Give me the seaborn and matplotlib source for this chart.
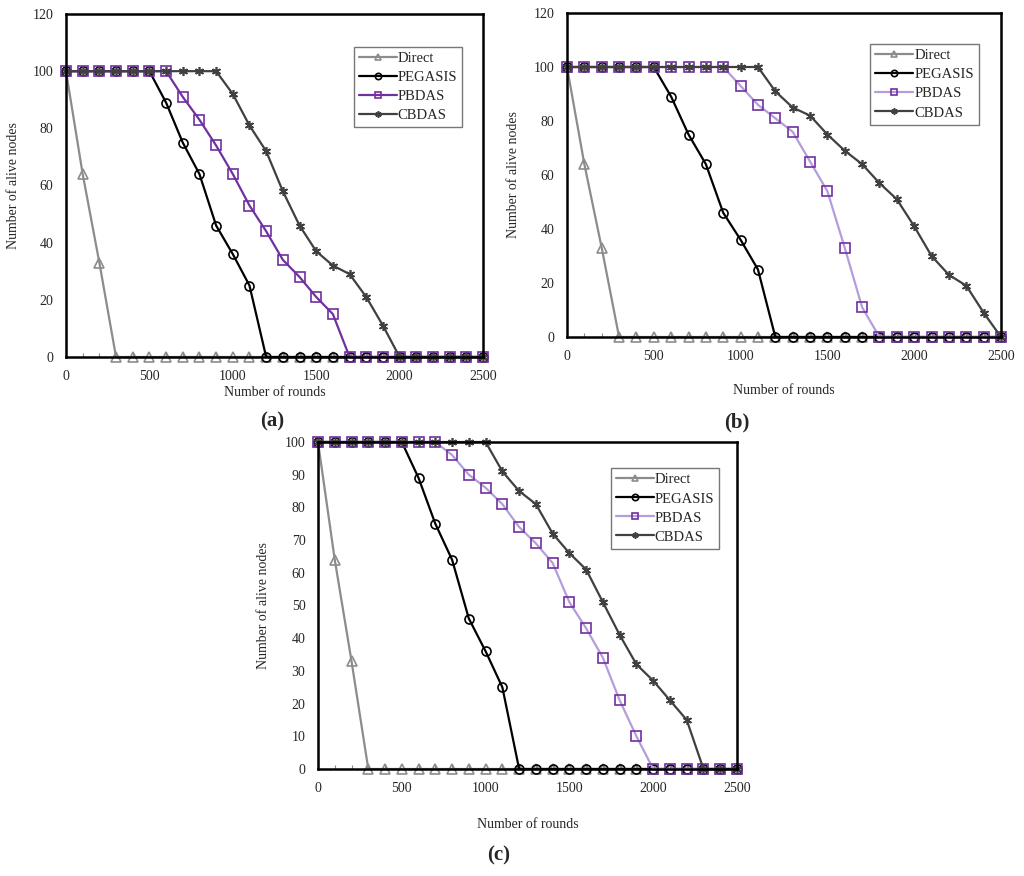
import numpy as np
import pandas as pd
import matplotlib
matplotlib.use("Agg")
import matplotlib.pyplot as plt
import seaborn as sns

# rounds 0..2500 step 100
rounds = list(range(0, 2600, 100))

direct = [100, 64, 33] + [0] * 23
pegasis = [100] * 6 + [89, 75, 64, 46, 36, 25] + [0] * 14

# panel (a)
pbdas_a = [100] * 7 + [91, 83, 74, 64, 53, 44, 34, 28, 21, 15] + [0] * 9
cbdas_a = [100] * 10 + [92, 81, 72, 58, 46, 37, 32, 29, 21, 11] + [0] * 6

# panel (b)
pbdas_b = [100] * 10 + [93, 86, 81, 76, 65, 54, 33, 11] + [0] * 8
cbdas_b = [100] * 12 + [91, 85, 82, 75, 69, 64, 57, 51, 41, 30, 23, 19, 9, 0]

# panel (c)
pbdas_c = [100] * 8 + [96, 90, 86, 81, 74, 69, 63, 51, 43, 34, 21, 10] + [0] * 6
cbdas_c = [100] * 11 + [91, 85, 81, 72, 66, 61, 51, 41, 32, 27, 21, 15] + [0] * 3

series_names = ["Direct", "PEGASIS", "PBDAS", "CBDAS"]

W, H = 1024, 876
sns.set_theme(style="white")
plt.rcParams['font.family'] = ['Liberation Serif', 'DejaVu Serif']

fig = plt.figure(figsize=(W / 100, H / 100), dpi=100)

GRAY = "#8c8c8c"
BLACK = "#000000"
PURPLE = "#7030a0"
LIGHT_PURPLE = "#b39ddb"
DARK = "#404040"
ASTER = (6, 2, 0)


def make_panel(rect, pb, cb, pb_line, ylim, ystep, leg_anchor,
               xlab_off, ylab_x, letter, letter_xy):
    ax = fig.add_axes(rect)
    styles = [
        ("Direct", direct, GRAY, GRAY, "^"),
        ("PEGASIS", pegasis, BLACK, BLACK, "o"),
        ("PBDAS", pb, pb_line, PURPLE, "s"),
        ("CBDAS", cb, DARK, DARK, ASTER),
    ]
    for name, vals, lc, mc, mk in styles:
        df = pd.DataFrame({"rounds": rounds, "alive": vals})
        sns.lineplot(data=df, x="rounds", y="alive", ax=ax, color=lc,
                     marker=mk, markersize=6.5, markerfacecolor="none",
                     markeredgecolor=mc, markeredgewidth=1.2,
                     linewidth=1.6, label=name, clip_on=False)
    ax.set_xlim(0, 2500)
    ax.set_ylim(0, ylim)
    ax.set_xticks(range(0, 2501, 500))
    ax.set_xticks(range(0, 2501, 100), minor=True)
    ax.set_yticks(range(0, ylim + 1, ystep))
    ax.tick_params(which="major", length=0, labelsize=10, pad=9)
    ax.tick_params(axis="x", which="minor", direction="in", length=3,
                   width=0.8, color="#888888", bottom=True)
    for s in ax.spines.values():
        s.set_visible(True)
        s.set_color("black")
        s.set_linewidth(1.8)
    ax.set_xlabel("Number of rounds", fontsize=10)
    ax.set_ylabel("Number of alive nodes", fontsize=10)
    ax.xaxis.set_label_coords(0.5, xlab_off)
    ax.yaxis.set_label_coords(ylab_x, 0.5)
    leg = ax.legend(loc="upper right", bbox_to_anchor=leg_anchor,
                    fancybox=False, frameon=True, fontsize=10.5,
                    handlelength=2.6, handletextpad=0.05, markerscale=0.7,
                    labelspacing=0.4, borderpad=0.35, borderaxespad=0)
    leg.get_frame().set_edgecolor("#555555")
    leg.get_frame().set_linewidth(1.0)
    fig.text(letter_xy[0] / W, 1 - letter_xy[1] / H, "(" + letter + ")",
             ha="center", va="center", fontsize=15, fontweight="bold")
    return ax


make_panel([66 / W, 1 - 357 / H, 417 / W, 343 / H], pbdas_a, cbdas_a, PURPLE,
           120, 20, (0.95, 0.904), -0.085, -0.11, "a", (272, 421))
make_panel([567 / W, 1 - 337 / H, 434 / W, 324 / H], pbdas_b, cbdas_b, LIGHT_PURPLE,
           120, 20, (0.949, 0.904), -0.145, -0.108, "b", (737, 422))
make_panel([318 / W, 1 - 769 / H, 419 / W, 327 / H], pbdas_c, cbdas_c, LIGHT_PURPLE,
           100, 10, (0.957, 0.92), -0.15, -0.115, "c", (499, 855))

plt.savefig("out.png", dpi=100)
plt.close()
